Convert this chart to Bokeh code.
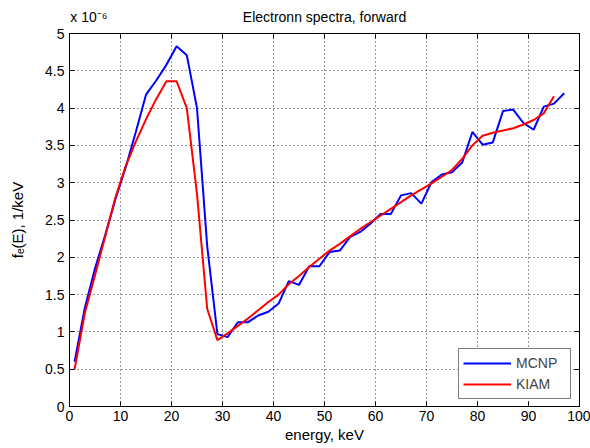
from bokeh.plotting import figure
from bokeh.models import Range1d, FixedTicker, LinearAxis, Grid, Legend, LegendItem
from bokeh.embed import file_html
from bokeh.resources import INLINE

# ---------------- data (values in units of 1e-6 1/keV) ----------------
energy_mcnp = [1, 3, 5, 7, 9, 11, 13, 15, 17, 19, 21, 23, 25, 27, 29, 31, 33, 35, 37,
               39, 41, 43, 45, 47, 49, 51, 53, 55, 57, 59, 61, 63, 65, 67, 69, 71, 73,
               75, 77, 79, 81, 83, 85, 87, 89, 91, 93, 95, 97]
f_mcnp = [0.60, 1.32, 1.85, 2.30, 2.78, 3.20, 3.68, 4.18, 4.37, 4.58, 4.83, 4.71, 4.00,
          2.15, 0.97, 0.93, 1.13, 1.13, 1.22, 1.27, 1.38, 1.68, 1.63, 1.88, 1.88, 2.07,
          2.09, 2.27, 2.34, 2.45, 2.58, 2.58, 2.83, 2.86, 2.72, 3.01, 3.11, 3.14, 3.27,
          3.68, 3.51, 3.54, 3.96, 3.98, 3.80, 3.71, 4.02, 4.06, 4.20]

energy_kiam = [1, 3, 5, 7, 9, 11, 13, 15, 17, 19, 21, 23, 25, 27, 29, 31, 33, 35, 37,
               39, 41, 43, 45, 47, 49, 51, 53, 55, 57, 59, 61, 63, 65, 67, 69, 71, 73,
               75, 77, 79, 81, 83, 85, 87, 89, 91, 93, 95]
f_kiam = [0.50, 1.25, 1.76, 2.28, 2.80, 3.22, 3.55, 3.85, 4.12, 4.36, 4.36, 4.00, 2.85,
          1.31, 0.89, 0.98, 1.08, 1.18, 1.29, 1.40, 1.50, 1.64, 1.75, 1.87, 1.98, 2.09,
          2.18, 2.28, 2.38, 2.47, 2.56, 2.65, 2.74, 2.83, 2.91, 2.99, 3.08, 3.17, 3.32,
          3.50, 3.63, 3.67, 3.70, 3.73, 3.78, 3.84, 3.93, 4.16]

x_ticks = [0, 10, 20, 30, 40, 50, 60, 70, 80, 90, 100]
x_tick_labels = ["0", "10", "20", "30", "40", "50", "60", "70", "80", "90", "100"]
y_ticks = [0, 0.5, 1, 1.5, 2, 2.5, 3, 3.5, 4, 4.5, 5]
y_tick_labels = ["0", "0.5", "1", "1.5", "2", "2.5", "3", "3.5", "4", "4.5", "5"]

title_text = "Electronn spectra, forward"
multiplier_text = "x 10\u207b\u2076"
x_label_text = "energy, keV"
y_label_text = "f\u2091(E), 1/keV"
series_names = ["MCNP", "KIAM"]
series_colors = ["#0000ff", "#ff0000"]

FONT = "Liberation Sans"
FS = "14px"

# ---------------- figure ----------------
p = figure(width=590, height=448, output_backend="svg", toolbar_location=None,
           x_range=Range1d(0, 100), y_range=Range1d(0, 5),
           min_border_left=69, min_border_right=11, min_border_top=33,
           min_border_bottom=42, x_axis_type=None, y_axis_type=None)
p.background_fill_color = "white"
p.border_fill_color = "white"
p.outline_line_color = "black"
p.outline_line_width = 1


def style_axis(ax, ticks, overrides, standoff):
    ax.ticker = FixedTicker(ticks=ticks)
    ax.major_label_overrides = overrides
    ax.axis_line_color = "black"
    ax.axis_line_width = 1
    ax.major_tick_line_color = "black"
    ax.major_tick_in = 5
    ax.major_tick_out = 0
    ax.minor_tick_line_color = None
    ax.major_label_text_font = FONT
    ax.major_label_text_font_size = FS
    ax.major_label_text_color = "black"
    ax.major_label_standoff = standoff
    ax.axis_label_text_font = FONT
    ax.axis_label_text_font_size = "15px"
    ax.axis_label_text_font_style = "normal"
    ax.axis_label_text_color = "black"


xb = LinearAxis(axis_label=x_label_text)
style_axis(xb, x_ticks, dict(zip(x_ticks, x_tick_labels)), 4)
xb.axis_label_standoff = 2
p.add_layout(xb, "below")

yl = LinearAxis(axis_label=y_label_text)
style_axis(yl, y_ticks, dict(zip(y_ticks, y_tick_labels)), 5)
yl.axis_label_standoff = 16
p.add_layout(yl, "left")

# top axis: tick marks, plus the multiplier and the title on one line
pad = "\u00a0" * 10
top_labels = {t: "" for t in x_ticks}
top_labels[x_ticks[0]] = pad + multiplier_text
top_labels[x_ticks[5]] = title_text
xt = LinearAxis()
style_axis(xt, x_ticks, top_labels, 9)
p.add_layout(xt, "above")

# right axis: tick marks only
yr = LinearAxis()
style_axis(yr, y_ticks, {t: "" for t in y_ticks}, 0)
p.add_layout(yr, "right")

gx = Grid(dimension=0, ticker=FixedTicker(ticks=x_ticks))
gy = Grid(dimension=1, ticker=FixedTicker(ticks=y_ticks))
for g in (gx, gy):
    g.grid_line_color = "black"
    g.grid_line_alpha = 0.8
    g.grid_line_dash = "1 3"
    g.grid_line_width = 1
    p.add_layout(g)

r1 = p.line(energy_mcnp, f_mcnp, line_color=series_colors[0], line_width=2)
r2 = p.line(energy_kiam, f_kiam, line_color=series_colors[1], line_width=2)

legend = Legend(items=[LegendItem(label=series_names[0], renderers=[r1]),
                       LegendItem(label=series_names[1], renderers=[r2])],
                location=(389, 7), orientation="vertical",
                border_line_color="black", border_line_width=1,
                background_fill_color="white", background_fill_alpha=1.0,
                label_text_font=FONT, label_text_font_size=FS,
                glyph_width=48, glyph_height=20, label_height=20, label_width=50,
                label_standoff=5, padding=4, spacing=1, margin=0)
p.add_layout(legend)

open("out.html", "w").write(file_html(p, INLINE))
